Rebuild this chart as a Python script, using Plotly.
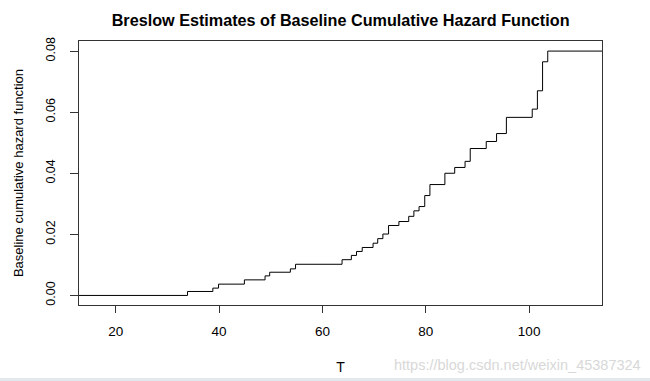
import plotly.graph_objects as go

# Event times (T) and Breslow cumulative hazard estimates
T = [10, 33.9, 38.8, 39.9, 44.9, 48.9, 49.8, 53.8, 54.8, 63.8, 65.6, 66.6, 67.7,
     69.8, 70.7, 71.7, 72.8, 74.8, 76.7, 77.7, 78.7, 79.8, 80.8, 83.7, 85.6,
     87.6, 88.6, 91.7, 93.7, 95.6, 100.6, 101.6, 102.6, 103.6, 120]
H = [0.0, 0.0013, 0.0024, 0.0037, 0.0051, 0.0064, 0.0076, 0.0087, 0.0102, 0.0117,
     0.0131, 0.0144, 0.0157, 0.0171, 0.0186, 0.0201, 0.0229, 0.0242, 0.0259,
     0.0277, 0.0291, 0.0327, 0.0363, 0.0400, 0.0419, 0.0439, 0.0481, 0.0504,
     0.0530, 0.0583, 0.0610, 0.0670, 0.0765, 0.0800, 0.0800]

x_ticks = [20, 40, 60, 80, 100]
y_ticks = [0.00, 0.02, 0.04, 0.06, 0.08]
y_tick_labels = ["0.00", "0.02", "0.04", "0.06", "0.08"]

font_family = "Liberation Sans, Arial, sans-serif"

fig = go.Figure()
fig.add_trace(go.Scatter(
    x=T, y=H, mode="lines", line=dict(color="black", width=1, shape="hv"),
    showlegend=False, hoverinfo="x+y"))

fig.update_layout(
    width=650, height=381,
    margin=dict(l=79, r=48, t=41, b=76, autoexpand=False),
    paper_bgcolor="white", plot_bgcolor="white",
    font=dict(family=font_family, size=13, color="black"),
    title=dict(text="<b>Breslow Estimates of Baseline Cumulative Hazard Function</b>",
               x=0.524, xanchor="center", y=0.947, yanchor="middle",
               font=dict(size=16.2, color="black")),
)
fig.update_xaxes(
    range=[12.9, 114.1], tickvals=x_ticks, ticks="outside", ticklen=7, tickwidth=1,
    tickcolor="#333", showline=True, linecolor="#333", linewidth=1, mirror=True,
    showgrid=False, zeroline=False, ticklabelstandoff=7, automargin=False,
    tickfont=dict(size=13.5),
    title=dict(text="T", standoff=23, font=dict(size=14)))
fig.update_yaxes(
    range=[-0.00313, 0.0833], tickvals=y_ticks, ticktext=y_tick_labels,
    tickangle=-90, ticks="outside", ticklen=8, tickwidth=1,
    tickcolor="#333", showline=True, linecolor="#333", linewidth=1, mirror=True,
    showgrid=False, zeroline=False, ticklabelstandoff=10, automargin=False,
    tickfont=dict(size=12.5),
    title=dict(text="Baseline cumulative hazard function", standoff=17,
               font=dict(size=13)))

fig.add_annotation(
    text="https://blog.csdn.net/weixin_45387324", xref="paper", yref="paper",
    x=1.078, y=-0.227, xanchor="right", yanchor="middle", showarrow=False,
    font=dict(size=14.5, color="#d8d8d8"))

# thin light strip at the very bottom of the reference image
fig.add_shape(type="rect", xref="paper", yref="paper",
              x0=-0.2, x1=1.2, y0=-0.2765, y1=-0.3,
              line=dict(width=0), fillcolor="#e3e8ec", layer="below")

fig.write_html("out.html", config={"displayModeBar": False},
               post_script="document.body.style.margin='0';document.body.style.overflow='hidden';")
